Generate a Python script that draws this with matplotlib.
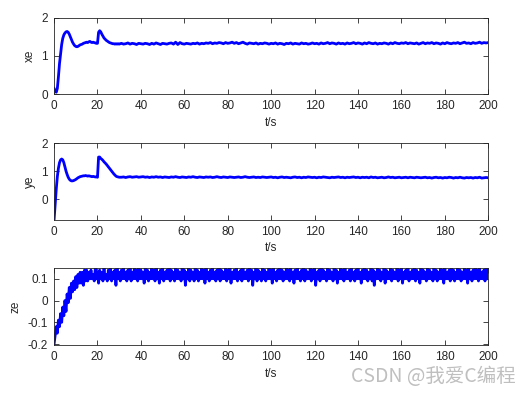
import numpy as np
import matplotlib
matplotlib.use("Agg")
import matplotlib.pyplot as plt

plt.rcParams['font.family'] = ['Liberation Sans', 'DejaVu Sans']

# time bases: 0.5 s steps up to 30 s, then 1 s steps
t_head = np.arange(0, 30.5, 0.5)
t_tail = np.arange(31, 201, 1)

xe_head = [0.15, 0.08, 0.05, 0.15, 0.45, 0.80, 1.05, 1.30, 1.46, 1.55,
           1.60, 1.63, 1.64, 1.62, 1.57, 1.50, 1.43, 1.36, 1.31, 1.27,
           1.25, 1.24, 1.25, 1.27, 1.29, 1.30, 1.31, 1.33, 1.34, 1.35,
           1.36, 1.35, 1.37, 1.38, 1.36, 1.35, 1.36, 1.35, 1.34, 1.33,
           1.33, 1.62, 1.66, 1.63, 1.57, 1.52, 1.47, 1.44, 1.41, 1.39,
           1.37, 1.35, 1.34, 1.33, 1.32, 1.32, 1.31, 1.32, 1.31, 1.32,
           1.31]
xe_tail = [1.33, 1.31, 1.32, 1.34, 1.31, 1.33, 1.32, 1.30, 1.33, 1.32,
           1.31, 1.33, 1.32, 1.30, 1.33, 1.31, 1.34, 1.32, 1.30, 1.33,
           1.32, 1.31, 1.33, 1.34, 1.31, 1.36, 1.30, 1.35, 1.32, 1.31,
           1.33, 1.32, 1.31, 1.33, 1.32, 1.34, 1.31, 1.33, 1.32, 1.34,
           1.33, 1.35, 1.32, 1.34, 1.33, 1.35, 1.34, 1.32, 1.35, 1.33,
           1.34, 1.36, 1.33, 1.35, 1.32, 1.34, 1.36, 1.33, 1.31, 1.34,
           1.33, 1.32, 1.34, 1.31, 1.33, 1.32, 1.34, 1.33, 1.31, 1.33,
           1.32, 1.34, 1.31, 1.33, 1.32, 1.30, 1.33, 1.32, 1.34, 1.31,
           1.33, 1.32, 1.31, 1.34, 1.32, 1.33, 1.31, 1.32, 1.34, 1.32,
           1.33, 1.31, 1.34, 1.32, 1.33, 1.35, 1.32, 1.34, 1.33, 1.31,
           1.34, 1.32, 1.33, 1.31, 1.34, 1.32, 1.33, 1.35, 1.32, 1.34,
           1.33, 1.31, 1.34, 1.32, 1.35, 1.33, 1.32, 1.34, 1.31, 1.33,
           1.32, 1.34, 1.33, 1.31, 1.34, 1.32, 1.35, 1.33, 1.32, 1.34,
           1.33, 1.35, 1.32, 1.34, 1.33, 1.32, 1.34, 1.31, 1.33, 1.35,
           1.32, 1.34, 1.33, 1.35, 1.32, 1.34, 1.33, 1.31, 1.34, 1.32,
           1.35, 1.33, 1.32, 1.34, 1.33, 1.35, 1.32, 1.34, 1.36, 1.33,
           1.34, 1.32, 1.35, 1.33, 1.34, 1.36, 1.33, 1.35, 1.34, 1.35]

ye_head = [-0.74, -0.20, 0.35, 0.80, 1.10, 1.30, 1.40, 1.43, 1.40, 1.30,
           1.15, 1.00, 0.88, 0.78, 0.71, 0.67, 0.65, 0.65, 0.66, 0.68,
           0.70, 0.73, 0.76, 0.78, 0.80, 0.81, 0.82, 0.83, 0.83, 0.84,
           0.83, 0.82, 0.83, 0.82, 0.81, 0.80, 0.81, 0.80, 0.79, 0.79,
           0.78, 1.50, 1.50, 1.45, 1.42, 1.38, 1.33, 1.29, 1.25, 1.20,
           1.15, 1.10, 1.05, 1.00, 0.95, 0.90, 0.86, 0.82, 0.80, 0.79,
           0.78]
ye_tail = [0.78, 0.79, 0.77, 0.79, 0.80, 0.78, 0.79, 0.80, 0.78, 0.79,
           0.80, 0.78, 0.79, 0.77, 0.79, 0.78, 0.80, 0.78, 0.79, 0.77,
           0.79, 0.78, 0.77, 0.79, 0.78, 0.80, 0.78, 0.77, 0.79, 0.78,
           0.77, 0.79, 0.78, 0.80, 0.78, 0.77, 0.79, 0.78, 0.77, 0.79,
           0.78, 0.79, 0.77, 0.78, 0.80, 0.78, 0.77, 0.79, 0.78, 0.77,
           0.79, 0.78, 0.77, 0.78, 0.79, 0.77, 0.78, 0.80, 0.78, 0.77,
           0.78, 0.79, 0.77, 0.78, 0.77, 0.79, 0.78, 0.77, 0.78, 0.79,
           0.77, 0.78, 0.76, 0.78, 0.79, 0.77, 0.78, 0.77, 0.76, 0.78,
           0.79, 0.77, 0.78, 0.76, 0.78, 0.77, 0.79, 0.78, 0.77, 0.78,
           0.76, 0.78, 0.77, 0.79, 0.78, 0.77, 0.76, 0.78, 0.77, 0.78,
           0.79, 0.77, 0.78, 0.76, 0.78, 0.77, 0.78, 0.79, 0.77, 0.78,
           0.76, 0.78, 0.77, 0.78, 0.76, 0.79, 0.77, 0.78, 0.76, 0.77,
           0.78, 0.76, 0.77, 0.79, 0.77, 0.78, 0.76, 0.77, 0.78, 0.76,
           0.77, 0.78, 0.76, 0.78, 0.77, 0.76, 0.78, 0.77, 0.76, 0.77,
           0.78, 0.76, 0.77, 0.75, 0.77, 0.78, 0.76, 0.77, 0.75, 0.77,
           0.76, 0.78, 0.77, 0.75, 0.77, 0.76, 0.78, 0.76, 0.75, 0.77,
           0.76, 0.77, 0.75, 0.77, 0.76, 0.78, 0.75, 0.76, 0.77, 0.76]

# ze sampled every 0.5 s, in hundredths
t_ze = np.arange(0, 200.5, 0.5)
ze_cents = [-20, -16, -12, -15, -9, -12, -6, -10, -3, -7, 0, -5, 3, -1, 6, 1,
            8, 4, 9, 5, 11, 6, 12, 8, 13, 8, 13, 7, 14, 9, 14,
            9, 13, 10, 14, 10, 12, 9, 15, 10, 13, 8, 14, 10, 13, 9, 15, 10, 12, 9, 14,
            10, 15, 9, 13, 10, 14, 7, 15, 10, 13, 9, 14, 10, 15, 10, 13, 9, 14, 10, 15,
            9, 13, 10, 15, 10, 14, 9, 15, 10, 14, 10, 13, 8, 15, 10, 14, 9, 13, 10, 15,
            10, 14, 9, 15, 10, 13, 8, 14, 10, 15, 9, 13, 10, 14, 10, 15, 9, 14, 10, 13,
            9, 15, 10, 14, 10, 13, 9, 15, 10, 14, 7, 13, 10, 15, 9, 14, 10, 13, 9, 15,
            10, 14, 9, 13, 10, 15, 10, 14, 8, 15, 10, 13, 9, 14, 10, 15, 10, 13, 9, 14,
            10, 15, 9, 14, 10, 13, 10, 15, 9, 14, 10, 15, 8, 13, 10, 14, 10, 15, 9, 13,
            10, 14, 9, 15, 10, 13, 10, 14, 9, 15, 10, 14, 7, 13, 10, 15, 9, 14, 10, 13,
            9, 15, 10, 14, 9, 13, 10, 15, 10, 14, 8, 15, 10, 13, 9, 14, 10, 15, 10, 14,
            9, 13, 10, 15, 10, 14, 9, 15, 10, 13, 8, 14, 10, 15, 10, 13, 9, 14, 10, 15,
            9, 14, 10, 13, 10, 15, 9, 14, 10, 15, 7, 13, 10, 14, 9, 15, 10, 14, 10, 13,
            9, 15, 10, 14, 10, 13, 9, 15, 10, 14, 8, 13, 10, 15, 10, 14, 9, 15, 10, 13,
            10, 14, 9, 15, 10, 13, 9, 14, 10, 15, 10, 13, 8, 14, 10, 15, 10, 14, 9, 13,
            10, 15, 9, 14, 7, 13, 10, 15, 10, 14, 9, 13, 10, 15, 8, 14, 10, 13, 10, 15,
            9, 14, 10, 13, 10, 15, 9, 14, 10, 15, 8, 13, 10, 14, 10, 15, 9, 13, 10, 14,
            10, 15, 9, 14, 10, 13, 8, 15, 10, 14, 10, 13, 9, 15, 10, 14, 10, 13, 9, 15,
            10, 14, 9, 13, 10, 15, 10, 14, 8, 15, 10, 13, 10, 14, 9, 15, 10, 14, 9, 13,
            10, 15, 10, 14, 9, 13, 10, 15, 10, 14, 8, 15, 10, 13, 9, 14, 10, 15, 10, 14,
            9, 15, 10, 13, 10, 14, 9, 15, 10, 14]

t_xy = np.concatenate([t_head, t_tail])
xe = np.array(xe_head + xe_tail)
ye = np.array(ye_head + ye_tail)
ze = np.array(ze_cents) / 100.0

fig = plt.figure(figsize=(5.25, 3.94), dpi=100)
axc = '#262626'
panels = [
    (t_xy, xe, 'xe', (0, 2), [0, 1, 2], [0.103, 0.761, 0.827, 0.194]),
    (t_xy, ye, 'ye', (-0.74, 2), [0, 1, 2], [0.103, 0.442, 0.827, 0.195]),
    (t_ze, ze, 'ze', (-0.205, 0.15), [-0.2, -0.1, 0, 0.1], [0.103, 0.124, 0.827, 0.196]),
]
for t, y, name, ylim, yt, pos in panels:
    ax = fig.add_axes(pos)
    ax.plot(t, y, color='#0000ff', lw=2.0)
    ax.set_xlim(0, 200)
    ax.set_ylim(*ylim)
    ax.set_xticks(np.arange(0, 201, 20))
    ax.set_yticks(yt)
    ax.set_yticklabels([('%g' % v) for v in yt])
    ax.tick_params(direction='in', length=3.5, width=0.6, top=True, right=True,
                   labelsize=8.5, colors=axc, pad=4.5)
    for s in ax.spines.values():
        s.set_linewidth(0.6)
        s.set_color(axc)
    ax.set_xlabel('t/s', fontsize=8.5, color=axc, labelpad=3)
    ax.set_ylabel(name, fontsize=8.5, color=axc, labelpad=4)

fig.text(0.982, 0.045, 'CSDN @我爱C编程', ha='right', va='center', fontsize=14,
         color='#b4b4b4', alpha=0.85, family=['Noto Sans CJK SC', 'DejaVu Sans'])

fig.savefig('out.png', dpi=100)
